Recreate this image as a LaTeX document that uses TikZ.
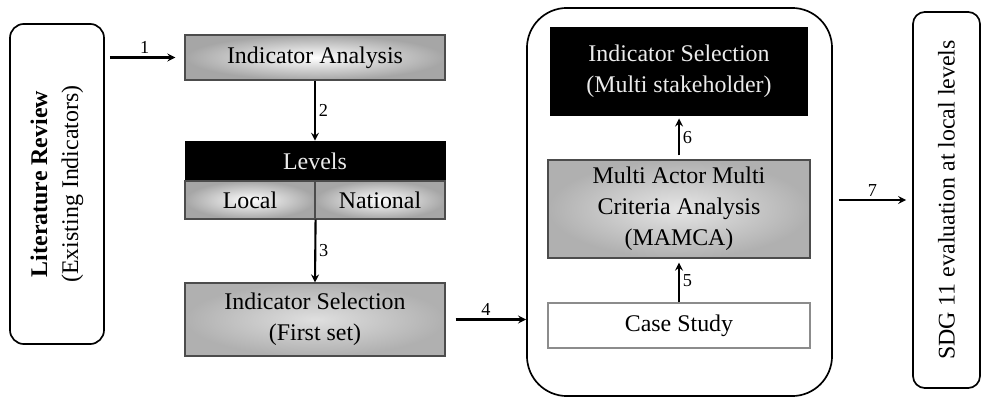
\documentclass[tikz,border=0pt]{standalone}
\usepackage{fontspec}
\setmainfont{Liberation Serif}

\begin{document}
\begin{tikzpicture}[x=0.025cm, y=-0.025cm]
\useasboundingbox (0,0) rectangle (982,401);

% definitions
\tikzstyle{txt} = [font=\fontsize{17}{22}\selectfont]

\tikzstyle{stage} = [rectangle, minimum width=6.5cm, minimum height=1.125cm, text centered, align=center, draw=black!70, line width=0.8pt, inner sep=0pt, shading=radial, inner color=white, outer color=gray!70, txt]

\tikzstyle{plain} = [rectangle, minimum width=6.5cm, minimum height=1.125cm, text centered, align=center, draw=black!45, line width=0.8pt, fill=white, txt]

\tikzstyle{blackbox} = [rectangle, text centered, align=center, draw=black, fill=black, text=white!92!black, txt]

\tikzstyle{roundbox} = [rectangle, rounded corners=0.4cm, draw=black, line width=1.2pt, align=center, txt]

\tikzstyle{arrow} = [->,>=stealth, line width=1.5pt]

\tikzstyle{num} = [font=\fontsize{13}{15}\selectfont, inner sep=2pt]

% left part
\node (lit) [roundbox, rotate=90, minimum width=8cm, minimum height=2.35cm, rounded corners=0.35cm] at (57,184) {\textbf{Literature Review}\\(Existing Indicators)};

\node (ia) [stage] at (315,57.5) {Indicator Analysis};

\node (levels) [blackbox, minimum width=6.5cm, minimum height=1cm] at (315,161) {Levels};

\node (local) [stage, minimum width=3.25cm, minimum height=0.95cm] at (250,200) {Local};

\node (national) [stage, minimum width=3.25cm, minimum height=0.95cm] at (380,200) {National};

\node (first) [stage, minimum height=1.825cm, inner color=gray!25, outer color=gray!62] at (315,319.5) {Indicator Selection\\(First set)};

% right part
\node (big) [roundbox, minimum width=7.625cm, minimum height=9.7cm, rounded corners=1cm] at (679.5,202) {};

\node (multi) [blackbox, minimum width=6.425cm, minimum height=2.2cm] at (679,71) {Indicator Selection\\(Multi stakeholder)};

\node (mamca) [stage, minimum width=6.55cm, minimum height=2.45cm, inner color=gray!20, outer color=gray!62] at (679,209) {Multi Actor Multi\\Criteria Analysis\\(MAMCA)};

\node (case) [plain, minimum width=6.55cm] at (679,325.5) {Case Study};

\node (sdg) [roundbox, rotate=90, minimum width=9.4cm, minimum height=1.675cm, rounded corners=0.3cm] at (946.5,200) {SDG 11 evaluation at local levels};

% the arrows
\draw [arrow, shorten <=0.125cm, shorten >=0.225cm] (lit.south |- ia.west) -- node[num, above] (n1) {1} (ia.west);
\draw [arrow] (ia.south) -- node[num, right] (n2) {2} (levels.north);
\draw [arrow] (local.south east) -- node[num, right] (n3) {3} (first.north);
\draw [arrow, shorten <=0.25cm] (first.east) -- node[num, above] (n4) {4} (first.east -| big.west);
\draw [arrow, shorten >=0.1cm] (case.north) -- node[num, right] (n5) {5} (mamca.south);
\draw [arrow, shorten <=0.1cm, shorten >=0.08cm] (mamca.north) -- node[num, right] (n6) {6} (multi.south);
\draw [arrow, shorten <=0.15cm, shorten >=0.15cm] (big.east |- sdg.north) -- node[num, above] (n7) {7} (sdg.north);

\end{tikzpicture}
\end{document}
